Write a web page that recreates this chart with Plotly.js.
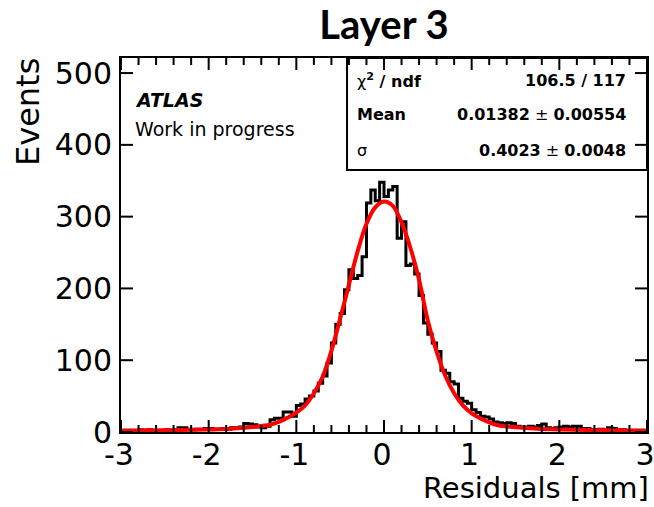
<!DOCTYPE html>
<html><head><meta charset="utf-8">
<script src="https://cdn.plot.ly/plotly-3.0.1.min.js"></script>
<style>html,body{margin:0;padding:0;background:#fff}#chart{width:654px;height:507px}</style>
</head><body><div id="chart"></div>
<script>
// Histogram: 120 bins of width 0.05 from -3 to 3
const binLow = -3;
const binWidth = 0.05;
const counts = [
  1,1,0,2,3,2,3,1,0,1,
  3,2,3,6,6,4,3,4,4,5,
  5,4,4,5,4,6,6,7,12,11,
  10,7,6,8,17,19,19,28,28,22,
  37,39,46,50,57,68,78,96,124,150,
  165,198,226,214,218,244,319,337,322,348,
  328,337,342,270,293,232,234,220,190,152,
  136,124,112,86,82,70,67,47,43,40,
  31,27,22,21,18,14,13,12,13,12,
  8,7,7,8,7,9,11,6,5,6,
  7,8,7,8,8,5,5,3,3,4,
  3,6,5,3,3,2,2,1,2,1
];
// Fit curve
const fitX = [-3,-2.5,-2,-1.75,-1.5,-1.3,-1.2,-1.1,-1.0,-0.9,-0.8,-0.7,-0.6,-0.5,-0.4,-0.3,-0.2,-0.1,0,0.1,0.2,0.3,0.4,0.5,0.6,0.7,0.8,0.9,1.0,1.1,1.2,1.3,1.5,1.75,2,2.5,3];
const fitY = [2,2.5,3.5,4.5,7,10,14,20,27,37,54,77,113,158,205,252,290,313,321,315,292,257,212,155,112,78,54,37,26,19,13.5,9.5,6.5,4.5,3.5,2.5,2];
const xTickVals = [-3,-2,-1,0,1,2,3];
const xTickText = ["-3","-2","-1","0","1","2","3"];
const xMinorStep = 0.2;
const yTickVals = [0,100,200,300,400,500];
const yTickText = ["0","100","200","300","400","500"];
const statLabels = ["χ<b><sup>2</sup> / ndf</b>", "<b>Mean</b>", "σ"];
const statValues = ["<b>106.5 / 117</b>", "<b>0.01382</b> ± <b>0.00554</b>", "<b>0.4023</b> ± <b>0.0048</b>"];

const edges = counts.map((_, i) => binLow + i * binWidth);
edges.push(binLow + counts.length * binWidth);
const stepY = counts.concat([counts[counts.length - 1]]);

const F = "DejaVu Sans, Liberation Sans, Arial, sans-serif";

const traces = [
  {x: edges, y: stepY, type: 'scatter', mode: 'lines', line: {shape: 'hv', color: '#000', width: 3}, hoverinfo: 'skip', showlegend: false},
  {x: fitX, y: fitY, type: 'scatter', mode: 'lines', line: {shape: 'spline', smoothing: 1, color: '#ff0000', width: 4}, hoverinfo: 'skip', showlegend: false}
];

const rowY = [0.941, 0.848, 0.754];
const ann = [];
statLabels.forEach((t, i) => ann.push({xref: 'paper', yref: 'paper', x: 0.4449, y: rowY[i], xanchor: 'left', yanchor: 'middle', text: t, showarrow: false, font: {family: F, size: 16, color: '#000'}}));
statValues.forEach((t, i) => ann.push({xref: 'paper', yref: 'paper', x: 0.964, y: rowY[i], xanchor: 'right', yanchor: 'middle', text: t, showarrow: false, font: {family: F, size: 16, color: '#000'}}));
ann.push({xref: 'paper', yref: 'paper', x: 0.0228, y: 0.888, xanchor: 'left', yanchor: 'middle', text: '<b><i>ATLAS</i></b>', showarrow: false, font: {family: F, size: 19, color: '#000'}});
ann.push({xref: 'paper', yref: 'paper', x: 0.0228, y: 0.810, xanchor: 'left', yanchor: 'middle', text: 'Work in progress', showarrow: false, font: {family: F, size: 19, color: '#000'}});
ann.push({xref: 'paper', yref: 'paper', x: -0.177, y: 1.005, xanchor: 'center', yanchor: 'top', textangle: -90, text: 'Events', showarrow: false, font: {family: F, size: 32, color: '#000'}});
ann.push({xref: 'paper', yref: 'paper', x: 1, xshift: 4, y: -0.15, xanchor: 'right', yanchor: 'middle', text: 'Residuals [mm]', showarrow: false, font: {family: F, size: 29, color: '#000'}});

// ROOT-style inside ticks on all four sides, placed through the axes' scales
const shapes = [];
const tickLine = {color: '#000', width: 2};
const xMinor = [];
for (let k = 0; binLow + k * xMinorStep <= 3 + 1e-9; k++) {
  const v = +(binLow + k * xMinorStep).toFixed(6);
  if (!xTickVals.includes(v)) xMinor.push(v);
}
function xTick(v, len) {
  shapes.push({type: 'line', xref: 'x', yref: 'paper', ysizemode: 'pixel', yanchor: 0, x0: v, x1: v, y0: 0, y1: len, line: tickLine});
  shapes.push({type: 'line', xref: 'x', yref: 'paper', ysizemode: 'pixel', yanchor: 1, x0: v, x1: v, y0: 0, y1: -len, line: tickLine});
}
function yTick(v, len) {
  shapes.push({type: 'line', yref: 'y', xref: 'paper', xsizemode: 'pixel', xanchor: 0, y0: v, y1: v, x0: 0, x1: len, line: tickLine});
  shapes.push({type: 'line', yref: 'y', xref: 'paper', xsizemode: 'pixel', xanchor: 1, y0: v, y1: v, x0: 0, x1: -len, line: tickLine});
}
xTickVals.forEach(v => xTick(v, 12));
xMinor.forEach(v => xTick(v, 7));
yTickVals.forEach(v => yTick(v, 12));
shapes.push({type: 'rect', xref: 'paper', yref: 'paper', x0: 0.4297, x1: 1, y0: 0.7005, y1: 1, line: {color: '#000', width: 2}, fillcolor: 'rgba(0,0,0,0)'});

const axisCommon = {
  showline: true, linewidth: 2, linecolor: '#000', mirror: true,
  ticks: '', tickmode: 'array', showgrid: false, zeroline: false, ticklabeloverflow: 'allow',
  tickfont: {family: F, size: 30, color: '#000'}
};

const layout = {
  width: 654, height: 507,
  margin: {l: 121, r: 7, t: 58, b: 75},
  paper_bgcolor: '#fff', plot_bgcolor: '#fff',
  title: {text: '<b>Layer 3</b>', x: 0.5, xref: 'paper', y: 0.951, yref: 'container', yanchor: 'middle', xanchor: 'center', font: {family: 'Lato, Open Sans, sans-serif', size: 40, color: '#000'}},
  xaxis: Object.assign({}, axisCommon, {range: [-3, 3], tickvals: xTickVals, ticktext: xTickText, ticklabelstandoff: -5, ticklabelshift: -2}),
  yaxis: Object.assign({}, axisCommon, {range: [0, 521], tickvals: yTickVals, ticktext: yTickText, ticklabelstandoff: 1}),
  shapes: shapes,
  annotations: ann,
  showlegend: false
};

Plotly.newPlot('chart', traces, layout, {displayModeBar: false, staticPlot: true});
</script>
</body></html>
